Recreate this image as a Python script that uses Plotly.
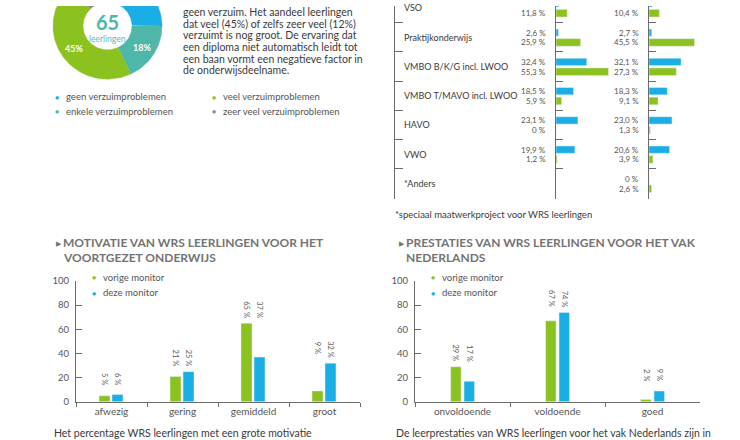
import math
import plotly.graph_objects as go

W, H = 740, 440
def px(x): return x / W
def py(y): return 1 - y / H

GREEN = "#8cc21f"
BLUE = "#19afe6"
TEAL = "#4fb6aa"
GREY = "#8b8b8b"
TXT = "#3a3a3a"
LBL = "#555555"
AX = "#6b6b6b"
TITLE = "#737373"
FONT = "Lato"

# ---------------- data ----------------
donut_labels = ["geen verzuimproblemen", "enkele verzuimproblemen",
                "veel verzuimproblemen", "zeer veel verzuimproblemen"]
donut_shares = [25, 18, 45, 12]
donut_colors = [BLUE, TEAL, GREEN, GREY]
donut_total = 65

paragraph = ["geen verzuim. Het aandeel leerlingen",
             "dat veel (45%) of zelfs zeer veel (12%)",
             "verzuimt is nog groot. De ervaring dat",
             "een diploma niet automatisch leidt tot",
             "een baan vormt een negatieve factor in",
             "de onderwijsdeelname."]

school_types = ["VSO", "Praktijkonderwijs", "VMBO B/K/G incl. LWOO",
                "VMBO T/MAVO incl. LWOO", "HAVO", "VWO", "*Anders"]
col1_blue = [3.0, 2.6, 32.4, 18.5, 23.1, 19.9, None]
col1_green = [11.8, 25.9, 55.3, 5.9, 0, 1.2, None]
col2_blue = [3.0, 2.7, 32.1, 18.3, 23.0, 20.6, 0]
col2_green = [10.4, 45.5, 27.3, 9.1, 1.3, 3.9, 2.6]
hidden_label_rows = [0]  # labels of the first blue row lie above the crop

motivation_cats = ["afwezig", "gering", "gemiddeld", "groot"]
motivation_prev = [5, 21, 65, 9]
motivation_curr = [6, 25, 37, 32]

dutch_cats = ["onvoldoende", "voldoende", "goed"]
dutch_prev = [29, 67, 2]
dutch_curr = [17, 74, 9]

series_names = ["vorige monitor", "deze monitor"]

fig = go.Figure()
annotations = []

def ann(x, y, text, size=10, color=TXT, xanchor="left", yanchor="middle",
        xref="paper", yref="paper", bold=False, angle=0, family=FONT, **kw):
    t = f"<b>{text}</b>" if bold else text
    annotations.append(dict(x=x, y=y, xref=xref, yref=yref, text=t, showarrow=False,
                            xanchor=xanchor, yanchor=yanchor, textangle=angle,
                            borderpad=0, font=dict(size=size, color=color, family=family), **kw))

# ---------------- donut (cartesian, clipped at the top) ----------------
R_OUT, R_IN = 1.0, 0.45
RPX = 54.5
CX, CY = 107.5, 20.5
tot = sum(donut_shares)
cum = 0
for lab, s, c in zip(donut_labels, donut_shares, donut_colors):
    a0 = cum / tot * 2 * math.pi
    a1 = (cum + s) / tot * 2 * math.pi
    n = max(int(s * 2), 6)
    th = [a0 + (a1 - a0) * k / n for k in range(n + 1)]
    xs = [R_OUT * math.sin(t) for t in th] + [R_IN * math.sin(t) for t in reversed(th)]
    ys = [R_OUT * math.cos(t) for t in th] + [R_IN * math.cos(t) for t in reversed(th)]
    fig.add_trace(go.Scatter(x=xs + [xs[0]], y=ys + [ys[0]], fill="toself", fillcolor=c,
                             line=dict(width=0.5, color=c), mode="lines", name=lab,
                             xaxis="x3", yaxis="y3", hoverinfo="skip", showlegend=False))
    am = (a0 + a1) / 2
    ann(0.74 * math.sin(am), 0.74 * math.cos(am), f"{s}%", size=9, color="white",
        xanchor="center", xref="x3", yref="y3", bold=True)
    cum += s
ann(0, 0.08, str(donut_total), size=20, color=TEAL, xanchor="center", xref="x3",
    yref="y3", bold=True)
ann(0, -0.25, "leerlingen", size=8.5, color="#5bb9c2", xanchor="center", xref="x3", yref="y3")

x3_dom = [0, 215]
y3_dom = [0, 100]
fig.update_layout(
    xaxis3=dict(domain=[px(x3_dom[0]), px(x3_dom[1])],
                range=[(x3_dom[0] - CX) / RPX, (x3_dom[1] - CX) / RPX],
                visible=False, fixedrange=True, anchor="y3"),
    yaxis3=dict(domain=[py(y3_dom[1]), py(y3_dom[0])],
                range=[(CY - y3_dom[1]) / RPX, (CY - y3_dom[0]) / RPX],
                visible=False, fixedrange=True, anchor="x3"),
)

# paragraph
for i, line in enumerate(paragraph):
    ann(px(182), py(6 + 12 * i), line, size=10.5, color=TXT)

# donut legend
leg_pos = [(57, 93), (57, 108), (214, 93), (214, 108)]
for (lx, ly), lab, c in zip(leg_pos, donut_labels, donut_colors):
    ann(px(lx), py(ly), "●", size=7, color=c, xanchor="center")
    ann(px(lx + 8), py(ly), lab, size=9.5, color=LBL)

# ---------------- horizontal bar table ----------------
y_rng = [(198 - 2) / 30, -2 / 30]
tick_b = [i + 0.5 for i in range(len(school_types))]
for ax_id, (d0, d1) in zip(["4", "5", "6"], [(395, 556), (556, 649), (649, 740)]):
    fig.layout["xaxis" + ax_id] = dict(domain=[px(d0), px(d1)], visible=False,
                                       anchor="y" + ax_id, fixedrange=True)
    fig.layout["yaxis" + ax_id] = dict(domain=[py(198), 1], range=y_rng, anchor="x" + ax_id,
                                       showline=True, linecolor=AX, linewidth=1,
                                       ticks="inside", ticklen=8 if ax_id == "4" else 7,
                                       tickcolor=AX, tickvals=tick_b, showticklabels=False,
                                       showgrid=False, zeroline=False, fixedrange=True)
fig.layout.xaxis4.range = [0, 1]
fig.layout.xaxis5.range = [0, 93 / 0.95]
fig.layout.xaxis6.range = [0, 91 / 1.0]

ypos = list(range(len(school_types)))
for ax_id, blue_vals, green_vals in [("5", col1_blue, col1_green), ("6", col2_blue, col2_green)]:
    fig.add_trace(go.Bar(x=blue_vals, y=ypos, orientation="h", marker_color=BLUE,
                         width=0.25, offset=-0.28, xaxis="x" + ax_id, yaxis="y" + ax_id,
                         showlegend=False, hoverinfo="skip"))
    fig.add_trace(go.Bar(x=green_vals, y=ypos, orientation="h", marker_color=GREEN,
                         width=0.26, offset=0.05, xaxis="x" + ax_id, yaxis="y" + ax_id,
                         showlegend=False, hoverinfo="skip"))
    for i in ypos:
        for v, yy, is_blue in [(blue_vals[i], i - 0.155, True), (green_vals[i], i + 0.18, False)]:
            if v is None or (is_blue and i in hidden_label_rows):
                continue
            txt = ("0" if v == 0 else f"{v:.1f}".replace(".", ",")) + " %"
            ann(0, yy, txt, size=8, color=LBL, xanchor="right", xref="x" + ax_id,
                yref="y" + ax_id, xshift=-9)

for i, name in enumerate(school_types):
    ann(px(403), i, name, size=9, color=TXT, yref="y4")

ann(px(394), py(214), "*speciaal maatwerkproject voor WRS leerlingen", size=9.5, color=TXT)

# ---------------- vertical grouped bar charts ----------------
def grouped(cats, prev, curr, xa, ya, dom, gw, goff, boff, title_x, title_lines,
            leg_x, foot_text, foot_x):
    fig.add_trace(go.Bar(x=cats, y=prev, marker_color=GREEN, width=gw, offset=goff,
                         name=series_names[0], xaxis=xa, yaxis=ya, showlegend=False,
                         hoverinfo="skip"))
    fig.add_trace(go.Bar(x=cats, y=curr, marker_color=BLUE, width=gw, offset=boff,
                         name=series_names[1], xaxis=xa, yaxis=ya, showlegend=False,
                         hoverinfo="skip"))
    xk = "xaxis" + xa[1:]
    yk = "yaxis" + ya[1:]
    fig.layout[xk] = dict(domain=[px(dom[0]), px(dom[1])], anchor=ya, type="category",
                          range=[-0.5, len(cats) - 0.5], showline=True, linecolor=AX,
                          linewidth=1, ticks="outside", tickson="boundaries", ticklen=4,
                          tickcolor=AX, showgrid=False,
                          tickfont=dict(size=10, color=LBL, family=FONT), fixedrange=True)
    fig.layout[yk] = dict(domain=[py(406), py(282)], anchor=xa, range=[0, 100],
                          showline=True, linecolor=AX, linewidth=1, ticks="inside",
                          ticklen=6, tickcolor=AX, tickvals=[0, 20, 40, 60, 80, 100],
                          showgrid=False, zeroline=False, ticklabelstandoff=4,
                          tickfont=dict(size=9.5, color=LBL, family=FONT), fixedrange=True)
    for i in range(len(cats)):
        top = max(prev[i], curr[i])
        for v, off in [(prev[i], goff), (curr[i], boff)]:
            ann(i + off + gw / 2, top, f"{v} %", size=7.5, color=LBL, xanchor="center",
                yanchor="top", xref=xa, yref=ya, angle=90, yshift=23)
    ann(px(title_x - 7), py(243), "▶", size=7, color=TITLE, xanchor="left")
    for k, tl in enumerate(title_lines):
        ann(px(title_x), py(243 + 15 * k), tl, size=12, color=TITLE, bold=True)
    for k, (nm, c) in enumerate(zip(series_names, [GREEN, BLUE])):
        ann(px(leg_x), py(278 + 16 * k), "●", size=7, color=c, xanchor="center")
        ann(px(leg_x + 8), py(278 + 16 * k), nm, size=9.5, color=LBL)
    ann(px(foot_x), py(438), foot_text, size=10.5, color=TXT)

grouped(motivation_cats, motivation_prev, motivation_curr, "x", "y", (76, 360),
        0.155, -0.176, 0.007, 62,
        ["MOTIVATIE VAN WRS LEERLINGEN VOOR HET", "VOORTGEZET ONDERWIJS"], 94,
        "Het percentage WRS leerlingen met een grote motivatie", 53)
grouped(dutch_cats, dutch_prev, dutch_curr, "x2", "y2", (415, 700),
        0.11, -0.125, 0.016, 405,
        ["PRESTATIES VAN WRS LEERLINGEN VOOR HET VAK", "NEDERLANDS"], 433,
        "De leerprestaties van WRS leerlingen voor het vak Nederlands zijn in", 395)

fig.update_layout(width=W, height=H, margin=dict(l=0, r=0, t=0, b=0),
                  paper_bgcolor="white", plot_bgcolor="rgba(0,0,0,0)",
                  barmode="overlay", showlegend=False, annotations=annotations,
                  font=dict(family=FONT, color=TXT))
fig.write_html("out.html", config={"displayModeBar": False},
               post_script="document.body.style.margin='0px';"
                           "document.documentElement.style.overflow='hidden';")
